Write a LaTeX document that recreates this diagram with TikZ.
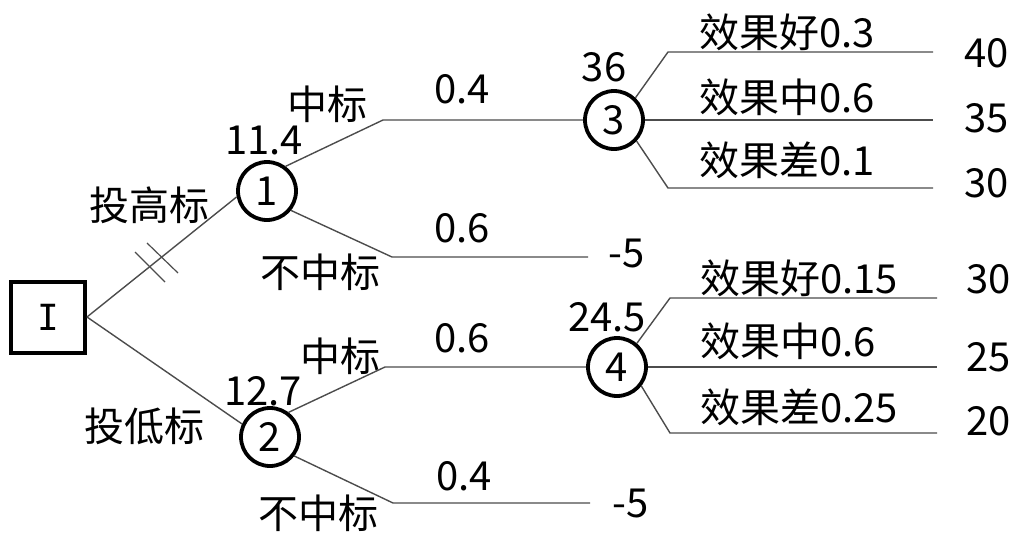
\documentclass[tikz,border=0pt]{standalone}
\usepackage{fontspec}
\setmainfont{Noto Sans CJK SC}
\newfontfamily\monofnt{DejaVu Sans Mono}
\begin{document}
\begin{tikzpicture}[x=1pt,y=-1pt,
  every node/.style={inner sep=0pt,font=\fontsize{40}{44}\selectfont},
  chance/.style={circle,draw=black,line width=3.8pt,minimum size=58pt},
  decision/.style={rectangle,draw=black,line width=4pt,minimum width=74pt,minimum height=71pt},
  branch/.style={draw=black!70,line width=1.4pt},
  hashmark/.style={draw=black!70,line width=1.2pt},
  lbl/.style={anchor=center},
  prob/.style={anchor=west},
  val/.style={anchor=west}]
\useasboundingbox (0,0) rectangle (1014,533);
% nodes
\node[decision,font=\monofnt\fontsize{36}{40}\selectfont] (I) at (48,317) {I};
\node[chance] (c1) at (267,191) {1};
\node[chance] (c2) at (270,437) {2};
\node[chance] (c3) at (614,120) {3};
\node[chance] (c4) at (617,367) {4};
% bend coordinates
\coordinate (a1) at (383,120);
\coordinate (b1) at (392,257);
\coordinate (e1) at (588,257);
\coordinate (a2) at (385,367);
\coordinate (b2) at (393,503);
\coordinate (e2) at (590,503);
\coordinate (u3) at (668,52);
\coordinate (u3e) at (933,52);
\coordinate (m3e) at (933,120);
\coordinate (l3) at (668,188);
\coordinate (l3e) at (933,188);
\coordinate (u4) at (670,298);
\coordinate (u4e) at (937,298);
\coordinate (m4e) at (937,367);
\coordinate (l4) at (670,433);
\coordinate (l4e) at (937,433);
\coordinate (h1a) at (135,252);
\coordinate (h1b) at (165,282);
\coordinate (h2a) at (147,243);
\coordinate (h2b) at (178,273);
% connectors
\draw[branch] (I.east) -- (c1.191);
\draw[branch] (I.east) -- (c2.155);
\draw[hashmark] (h1a) -- (h1b);
\draw[hashmark] (h2a) -- (h2b);
\draw[branch] (c1.53) -- (a1) -- (c3.west);
\draw[branch] (c1.-39) -- (b1) -- (e1);
\draw[branch] (c2.53) -- (a2) -- (c4.west);
\draw[branch] (c2.-38) -- (b2) -- (e2);
\draw[branch] (c3.46) -- (u3) -- (u3e);
\draw[branch] (c3.east) -- (m3e);
\draw[branch] (c3.-43) -- (l3) -- (l3e);
\draw[branch] (c4.50) -- (u4) -- (u4e);
\draw[branch] (c4.east) -- (m4e);
\draw[branch] (c4.-38) -- (l4) -- (l4e);
% labels
\node[lbl] (t1) at (149,205) {投高标};
\node[lbl] (t2) at (144,426) {投低标};
\node[lbl] (v1) at (264,140) {11.4};
\node[lbl] (v2) at (263,391) {12.7};
\node[lbl] (z1) at (327,104) {中标};
\node[lbl] (z2) at (340,356) {中标};
\node[lbl] (n1) at (320,272) {不中标};
\node[lbl] (n2) at (318,513) {不中标};
\node[lbl] (p1) at (462,89) {0.4};
\node[lbl] (p2) at (462,228) {0.6};
\node[lbl] (p3) at (462,338) {0.6};
\node[lbl] (p4) at (464,476) {0.4};
\node[lbl] (r1) at (627,253) {-5};
\node[lbl] (r2) at (631,503) {-5};
\node[lbl] (v3) at (604,67) {36};
\node[lbl] (v4) at (607,317) {24.5};
\node[prob] (q1) at (699,32) {效果好0.3};
\node[prob] (q2) at (699,97) {效果中0.6};
\node[prob] (q3) at (699,160) {效果差0.1};
\node[prob] (q4) at (700,278) {效果好0.15};
\node[prob] (q5) at (700,341) {效果中0.6};
\node[prob] (q6) at (700,407) {效果差0.25};
\node[val] (o1) at (964,53) {40};
\node[val] (o2) at (964,118) {35};
\node[val] (o3) at (964,183) {30};
\node[val] (o4) at (966,279) {30};
\node[val] (o5) at (966,357) {25};
\node[val] (o6) at (966,421) {20};
\end{tikzpicture}
\end{document}
